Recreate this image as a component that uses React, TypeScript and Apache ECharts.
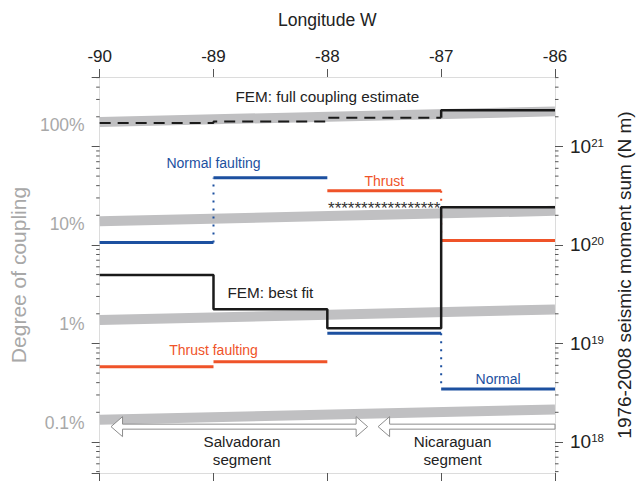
import React, { useEffect, useRef } from 'react';
import * as echarts from 'echarts';

const FONT = 'Liberation Sans, Arial, Helvetica, sans-serif';

// Longitude edges of the segments
const edges = [-90, -89, -88, -87, -86];
const xTicks = [-90, -89, -88, -87, -86];

// Seismic moment values (N m) per longitude segment
const fullCoupling = [1.73e21, 1.79e21, 1.96e21, 2.33e21];
const bestFit = [4.95e19, 2.22e19, 1.43e19, 2.41e20];
const normalFaulting = [1.06e20, 4.82e20, 1.27e19, 3.45e18];
const thrustFaulting = [5.81e18, 6.53e18, 3.56e20, 1.11e20];
const normalDottedAt = [1, 3];
const thrustDottedAt = [3];

// Constant-coupling reference bands (moment at -90 and at -86)
const couplingLabels = ['100%', '10%', '1%', '0.1%'];
const bandStart = [1.77e21, 1.74e20, 1.73e19, 1.68e18];
const bandEnd = [2.27e21, 2.22e20, 2.21e19, 2.14e18];

// Axis ranges
const momentMin = 4.84e17;
const momentMax = 5.07e21;
const couplingMin = 0.03173;
const couplingMax = 300.6;
const minorMultipliers = [2, 3, 4, 5, 6, 7, 8, 9];
const minorDecades = [17, 18, 19, 20, 21];

// Segment arrows: [from, to, moment level, left head, right head]
const arrows = [
  [-89.9, -87.646, 1.43e18, 1, 1],
  [-87.554, -86, 1.43e18, 1, 0],
];

// Annotations
const annoText = [
  'FEM: full coupling estimate',
  'Normal faulting',
  'Thrust',
  'FEM: best fit',
  'Thrust faulting',
  'Normal',
  'Salvadoran\nsegment',
  'Nicaraguan\nsegment',
  '*****************',
];
const annoX = [-88, -89, -87.5, -88.5, -89, -86.5, -88.75, -86.9, -87.5];
const annoY = [3.21e21, 6.85e20, 4.5e20, 3.28e19, 8.59e18, 4.34e18, 8.15e17, 8.15e17, 2.32e20];
const annoColor = ['#222', '#1c50a0', '#ef5329', '#222', '#ef5329', '#1c50a0', '#222', '#222', '#333'];
const annoSize = [15.3, 14, 14, 15.3, 14, 14, 15.2, 15.2, 17];

const BLUE = '#1c50a0';
const RED = '#ef5329';
const BLACK = '#1a1a1a';
const BAND = '#c0c0c2';
const BOX = '#dcdcdc';
const TICK = '#555';

function brokenSteps(vals: number[]) {
  const out: any[] = [];
  vals.forEach((v, i) => {
    out.push([edges[i], v], [edges[i + 1], v]);
    if (i < vals.length - 1) out.push([edges[i + 1], '-']);
  });
  return out;
}

function connectedSteps(vals: number[], start: number, end: number) {
  const out: any[] = [];
  for (let i = start; i < end; i++) {
    out.push([edges[i], vals[i]], [edges[i + 1], vals[i]]);
  }
  return out;
}

function verticals(vals: number[], idxs: number[]) {
  const out: any[] = [];
  idxs.forEach((e, k) => {
    if (k > 0) out.push([edges[e], '-']);
    out.push([edges[e], vals[e - 1]], [edges[e], vals[e]]);
  });
  return out;
}

function isDecade(v: number) {
  const l = Math.log10(v);
  return Math.abs(l - Math.round(l)) < 1e-6;
}

const minorTicks: number[][] = [];
minorDecades.forEach((d) => {
  minorMultipliers.forEach((m) => {
    const v = m * Math.pow(10, d);
    if (v > momentMin && v < momentMax) minorTicks.push([-88, v]);
  });
});

function buildOption(): any {
  const lineBase = { type: 'line', symbol: 'none', xAxisIndex: 0, yAxisIndex: 0, silent: true, animation: false };
  const series: any[] = [];

  bandStart.forEach((b, i) => {
    series.push({
      ...lineBase,
      name: 'band ' + couplingLabels[i],
      z: 1,
      data: [[edges[0], b], [edges[edges.length - 1], bandEnd[i]]],
      lineStyle: { color: BAND, width: 10, cap: 'butt' },
    });
  });

  series.push({
    ...lineBase, name: 'Normal faulting', z: 3,
    data: brokenSteps(normalFaulting),
    lineStyle: { color: BLUE, width: 3, cap: 'butt' },
  });
  series.push({
    ...lineBase, name: 'Normal dotted', z: 3,
    data: verticals(normalFaulting, normalDottedAt),
    lineStyle: { color: BLUE, width: 2, type: [2, 6], cap: 'butt' },
  });
  series.push({
    ...lineBase, name: 'Thrust faulting', z: 3,
    data: brokenSteps(thrustFaulting),
    lineStyle: { color: RED, width: 3, cap: 'butt' },
  });
  series.push({
    ...lineBase, name: 'Thrust dotted', z: 3,
    data: verticals(thrustFaulting, thrustDottedAt),
    lineStyle: { color: RED, width: 2, type: [2, 6], cap: 'butt' },
  });
  series.push({
    ...lineBase, name: 'FEM best fit', z: 4,
    data: connectedSteps(bestFit, 0, 4),
    lineStyle: { color: BLACK, width: 2.5 },
  });
  series.push({
    ...lineBase, name: 'FEM full coupling (dashed)', z: 4,
    data: connectedSteps(fullCoupling, 0, 3),
    lineStyle: { color: BLACK, width: 2, type: [11, 7] },
  });
  series.push({
    ...lineBase, name: 'FEM full coupling', z: 4,
    data: [[edges[3], fullCoupling[2]], ...connectedSteps(fullCoupling, 3, 4)],
    lineStyle: { color: BLACK, width: 2.5 },
  });

  // minor log ticks on both sides
  series.push({
    type: 'custom', name: 'minor ticks', xAxisIndex: 0, yAxisIndex: 0, silent: true, z: 5,
    data: minorTicks,
    encode: { x: 0, y: 1 },
    renderItem: (params: any, api: any) => {
      const v = api.value(1);
      const r = api.coord([edges[edges.length - 1], v]);
      const l = api.coord([edges[0], v]);
      return {
        type: 'group',
        children: [
          { type: 'line', shape: { x1: r[0], y1: r[1], x2: r[0] + 3.5, y2: r[1] }, style: { stroke: TICK, lineWidth: 1 } },
          { type: 'line', shape: { x1: l[0], y1: l[1], x2: l[0] - 3.5, y2: l[1] }, style: { stroke: TICK, lineWidth: 1 } },
        ],
      };
    },
  });

  // segment arrows
  series.push({
    type: 'custom', name: 'segments', xAxisIndex: 0, yAxisIndex: 0, silent: true, z: 5,
    data: arrows,
    encode: { x: [0, 1], y: 2 },
    renderItem: (params: any, api: any) => {
      const a = api.coord([api.value(0), api.value(2)]);
      const b = api.coord([api.value(1), api.value(2)]);
      const x0 = a[0], x1 = b[0], y = a[1];
      const lh = api.value(3), rh = api.value(4);
      const hw = 10, sh = 2.5, hl = 11.5;
      const pts: number[][] = [];
      if (lh) {
        pts.push([x0, y], [x0 + hl, y - hw], [x0 + hl, y - sh]);
      } else {
        pts.push([x0, y - sh]);
      }
      if (rh) {
        pts.push([x1 - hl, y - sh], [x1 - hl, y - hw], [x1, y], [x1 - hl, y + hw], [x1 - hl, y + sh]);
      } else {
        pts.push([x1, y - sh], [x1, y + sh]);
      }
      if (lh) {
        pts.push([x0 + hl, y + sh], [x0 + hl, y + hw]);
      } else {
        pts.push([x0, y + sh]);
      }
      return {
        type: 'polygon',
        shape: { points: pts },
        style: { fill: '#ffffff', stroke: '#8c8c8c', lineWidth: 1 },
      };
    },
  });

  // annotations
  series.push({
    type: 'custom', name: 'annotations', xAxisIndex: 0, yAxisIndex: 0, silent: true, z: 6,
    data: annoX.map((x, i) => [x, annoY[i], i]),
    encode: { x: 0, y: 1 },
    renderItem: (params: any, api: any) => {
      const i = api.value(2);
      const p = api.coord([api.value(0), api.value(1)]);
      return {
        type: 'text',
        x: p[0],
        y: p[1],
        style: {
          text: annoText[i],
          fill: annoColor[i],
          fontSize: annoSize[i],
          fontFamily: FONT,
          lineHeight: 18.5,
          align: 'center',
          verticalAlign: 'middle',
        },
      };
    },
  });

  return {
    animation: false,
    backgroundColor: '#ffffff',
    textStyle: { fontFamily: FONT },
    grid: { left: 96, right: 86, top: 77, bottom: 10, containLabel: false },
    xAxis: [
      {
        type: 'value', position: 'top', min: xTicks[0], max: xTicks[xTicks.length - 1], interval: 1,
        name: 'Longitude W', nameLocation: 'middle', nameGap: 48,
        nameTextStyle: { fontSize: 17.6, color: '#222', fontFamily: FONT },
        axisLine: { show: true, lineStyle: { color: BOX, width: 1 } },
        axisTick: { show: true, length: 8, lineStyle: { color: TICK } },
        axisLabel: { fontSize: 17, color: '#222', margin: 12, fontFamily: FONT },
        splitLine: { show: false },
      },
      {
        type: 'value', position: 'bottom', min: xTicks[0], max: xTicks[xTicks.length - 1], interval: 1,
        axisLine: { show: true, lineStyle: { color: BOX, width: 1 } },
        axisTick: { show: true, length: 8, lineStyle: { color: TICK } },
        axisLabel: { show: false },
        splitLine: { show: false },
      },
    ],
    yAxis: [
      {
        type: 'log', logBase: 10, position: 'right', min: momentMin, max: momentMax,
        name: '1976-2008 seismic moment sum (N m)', nameLocation: 'middle', nameRotate: 90, nameGap: 60,
        nameTextStyle: { fontSize: 19, color: '#222', fontFamily: FONT },
        axisLine: { show: true, lineStyle: { color: BOX, width: 1 } },
        axisTick: { show: true, length: 8, lineStyle: { color: TICK } },
        axisLabel: {
          margin: 15,
          showMinLabel: false,
          showMaxLabel: false,
          formatter: (v: number) => (isDecade(v) ? '{b|10}{s|' + Math.round(Math.log10(v)) + '}' : ''),
          rich: {
            b: { fontSize: 19, color: '#222', fontFamily: FONT },
            s: { fontSize: 11.5, color: '#222', fontFamily: FONT, verticalAlign: 'top' },
          },
        },
        splitLine: { show: false },
        minorTick: { show: false },
      },
      {
        type: 'log', logBase: 10, position: 'left', min: couplingMin, max: couplingMax,
        name: 'Degree of coupling', nameLocation: 'middle', nameRotate: 90, nameGap: 64,
        nameTextStyle: { fontSize: 21, color: '#a8a8a8', fontFamily: FONT },
        axisLine: { show: false },
        axisTick: { show: false },
        axisLabel: {
          margin: 15, color: '#a8a8a8', fontSize: 17.5, fontFamily: FONT,
          showMinLabel: false, showMaxLabel: false,
          formatter: (v: number) => {
            if (!isDecade(v)) return '';
            const e = Math.round(Math.log10(v));
            return (e >= 0 ? String(Math.pow(10, e)) : '0.' + '0'.repeat(-e - 1) + '1') + '%';
          },
        },
        splitLine: { show: false },
      },
      {
        type: 'log', logBase: 10, position: 'left', min: momentMin, max: momentMax,
        axisLine: { show: true, lineStyle: { color: BOX, width: 1 } },
        axisTick: { show: true, length: 8, lineStyle: { color: TICK } },
        axisLabel: { show: false },
        splitLine: { show: false },
      },
    ],
    series,
  };
}

export default function App() {
  const ref = useRef<HTMLDivElement>(null);
  useEffect(() => {
    if (!ref.current) return;
    const chart = echarts.init(ref.current, null, { renderer: 'svg' });
    chart.setOption(buildOption());
    return () => chart.dispose();
  }, []);
  return (
    <div
      ref={ref}
      style={{ position: 'fixed', left: 0, top: 0, width: 642, height: 483, background: '#ffffff' }}
    />
  );
}
